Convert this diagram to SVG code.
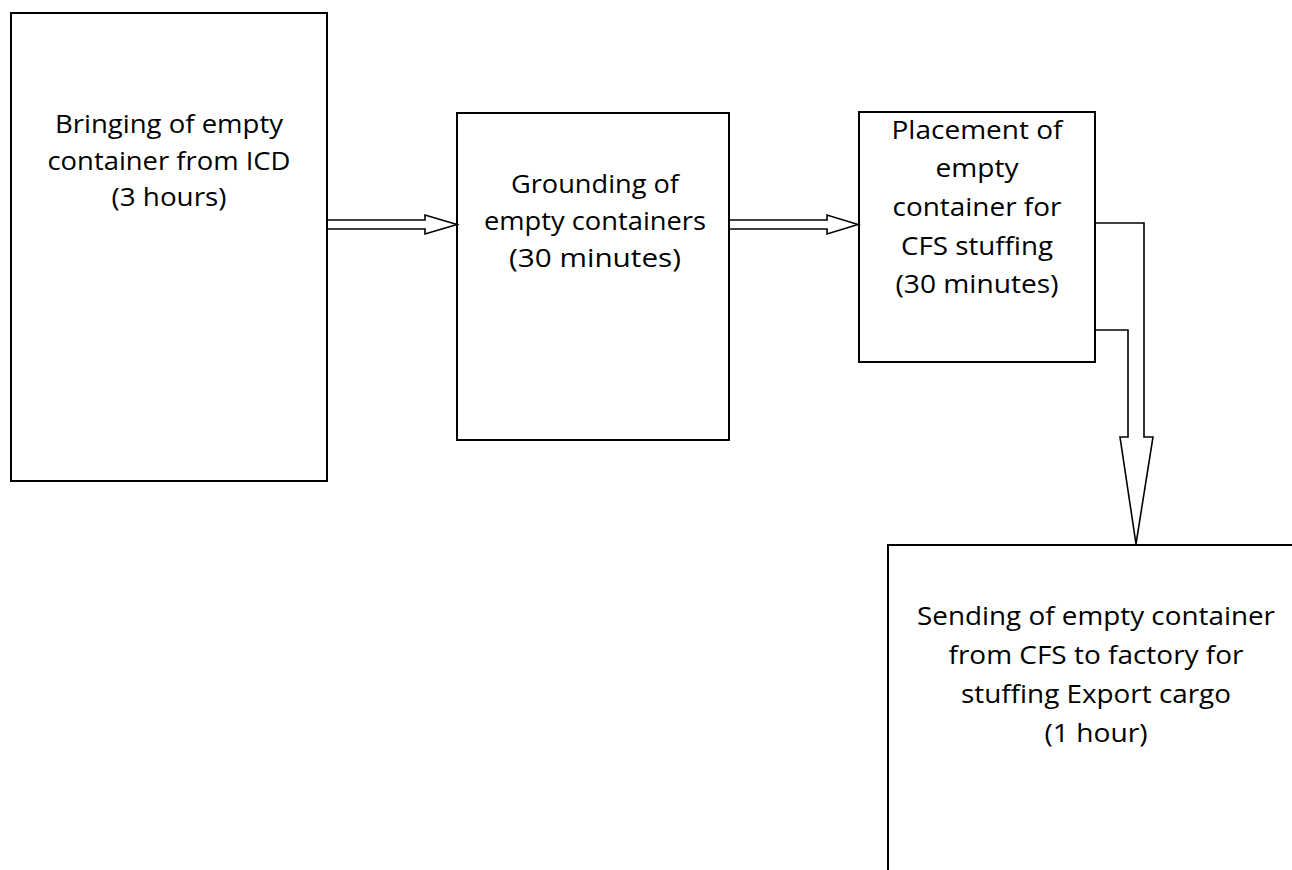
<svg xmlns="http://www.w3.org/2000/svg" width="1292" height="870" viewBox="0 0 1292 870">
<style>
.box{fill:#fff;stroke:#000;stroke-width:2}
.arr{fill:#fff;stroke:#000;stroke-width:1.6;stroke-linejoin:miter}
text{font-family:"Open Sans","Noto Sans","Liberation Sans",sans-serif;font-size:26px;fill:#000;text-anchor:middle}
</style>
<rect width="1292" height="870" fill="#fff"/>
<g id="node-icd">
<rect class="box" x="11" y="13" width="316" height="468"/>
<text x="169" y="133" textLength="228" lengthAdjust="spacingAndGlyphs">Bringing of empty</text>
<text x="169" y="170" textLength="243" lengthAdjust="spacingAndGlyphs">container from ICD</text>
<text x="169" y="206" textLength="115" lengthAdjust="spacingAndGlyphs">(3 hours)</text>
</g>
<g id="node-grounding">
<rect class="box" x="457" y="113" width="272" height="327"/>
<text x="595" y="193" textLength="168" lengthAdjust="spacingAndGlyphs">Grounding of</text>
<text x="595" y="230" textLength="222" lengthAdjust="spacingAndGlyphs">empty containers</text>
<text x="595" y="267" textLength="172" lengthAdjust="spacingAndGlyphs">(30 minutes)</text>
</g>
<g id="node-placement">
<rect class="box" x="859" y="112" width="236" height="250"/>
<text x="977" y="139" textLength="171" lengthAdjust="spacingAndGlyphs">Placement of</text>
<text x="977" y="177" textLength="83" lengthAdjust="spacingAndGlyphs">empty</text>
<text x="977" y="216" textLength="169" lengthAdjust="spacingAndGlyphs">container for</text>
<text x="977" y="255" textLength="152" lengthAdjust="spacingAndGlyphs">CFS stuffing</text>
<text x="977" y="293" textLength="163" lengthAdjust="spacingAndGlyphs">(30 minutes)</text>
</g>
<g id="node-sending">
<rect class="box" x="888" y="545" width="420" height="340"/>
<text x="1096" y="625" textLength="358" lengthAdjust="spacingAndGlyphs">Sending of empty container</text>
<text x="1096" y="664" textLength="295" lengthAdjust="spacingAndGlyphs">from CFS to factory for</text>
<text x="1096" y="703" textLength="270" lengthAdjust="spacingAndGlyphs">stuffing Export cargo</text>
<text x="1096" y="742" textLength="103" lengthAdjust="spacingAndGlyphs">(1 hour)</text>
</g>
<g id="connectors">
<path class="arr" d="M328,220 L425,220 L425,215 L457,224.5 L425,234 L425,229 L328,229"/>
<path class="arr" d="M730,220 L827,220 L827,215 L858,224.5 L827,234 L827,229 L730,229"/>
<path class="arr" d="M1096,223 L1144,223 L1144,437 L1153,437 L1136,544 L1120,437 L1128,437 L1128,330 L1096,330"/>
</g>
</svg>
